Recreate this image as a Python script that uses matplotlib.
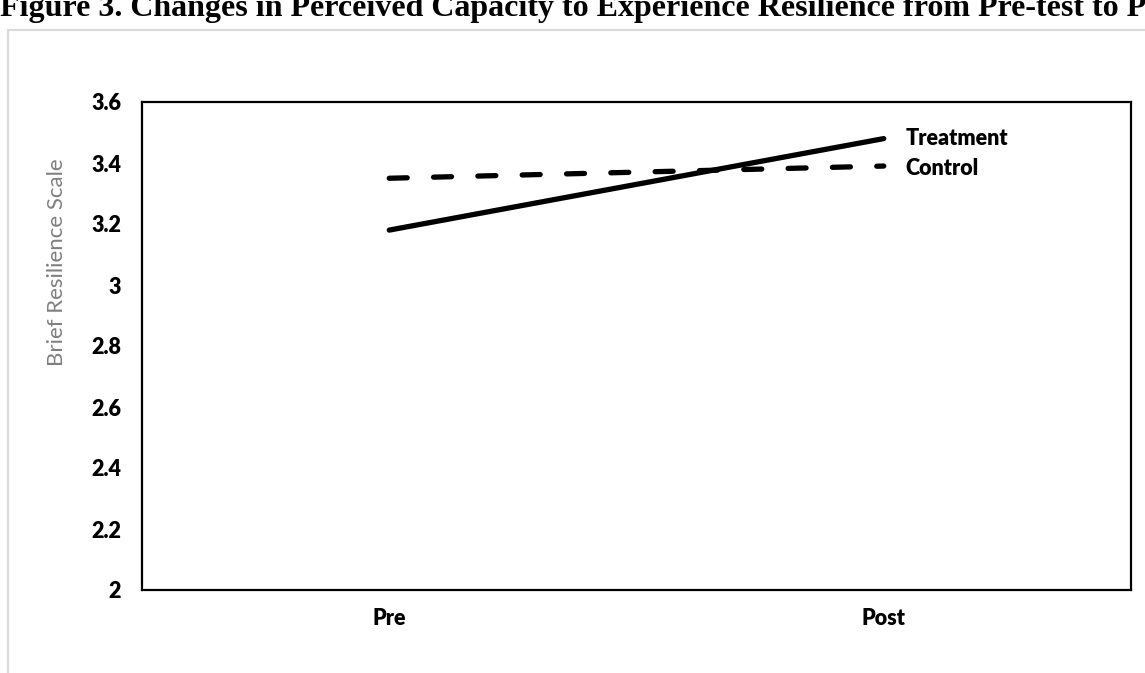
import matplotlib.pyplot as plt
from matplotlib.patches import Rectangle

# data
times = ['Pre', 'Post']
treatment = [3.18, 3.48]
control = [3.35, 3.39]
y_ticks = [2, 2.2, 2.4, 2.6, 2.8, 3, 3.2, 3.4, 3.6]
y_tick_labels = ['2', '2.2', '2.4', '2.6', '2.8', '3', '3.2', '3.4', '3.6']

W, H = 1145, 673
fig = plt.figure(figsize=(W / 100, H / 100), dpi=100)

# axes box in pixel coords: left 142, right 1131, top 102, bottom 590
ax = fig.add_axes([142 / W, 1 - 590 / H, (1131 - 142) / W, (590 - 102) / H])

x = range(len(times))
ax.plot(x, treatment, color='black', lw=3.8, solid_capstyle='round')
ax.plot(x, control, color='black', lw=3.8, dashes=(3.4, 5.0), dash_capstyle='round')

ax.set_xlim(-0.5, 1.5)
ax.set_ylim(2, 3.6)
ax.set_xticks(list(x))
ax.set_xticklabels(times)
ax.set_yticks(y_ticks)
ax.set_yticklabels(y_tick_labels)
ax.tick_params(length=0, labelsize=15.5)
ax.tick_params(axis='y', pad=15)
ax.tick_params(axis='x', pad=13)
for lab in ax.get_xticklabels() + ax.get_yticklabels():
    lab.set_fontfamily('Lato')
    lab.set_fontweight('heavy')

for side in ['left', 'right', 'top', 'bottom']:
    ax.spines[side].set_linewidth(1.6)
    ax.spines[side].set_color('black')

# series names at the end of each line
ax.annotate('Treatment', xy=(1, treatment[1]), xytext=(22, 0), textcoords='offset pixels',
            va='center', ha='left', fontsize=15.5, fontweight='heavy', family='Lato')
ax.annotate('Control', xy=(1, control[1]), xytext=(22, -2), textcoords='offset pixels',
            va='center', ha='left', fontsize=15.5, fontweight='heavy', family='Lato')

fig.text(57 / W, 1 - 262 / H, 'Brief Resilience Scale', rotation=90, ha='center', va='center',
         fontsize=16, family='Lato', color='#7f7f7f')

# outer chart frame (light gray)
fig.patches.append(Rectangle((8 / W, -0.05), 1.2, 1 - 30 / H + 0.05, transform=fig.transFigure,
                             fill=False, edgecolor='#d9d9d9', lw=1.5))

fig.text(0, 1 - 16 / H, 'Figure 3. Changes in Perceived Capacity to Experience Resilience from Pre-test to Post-test',
         ha='left', va='baseline', fontsize=23, fontweight='bold', family='Liberation Serif')

fig.savefig('out.png', dpi=100)
